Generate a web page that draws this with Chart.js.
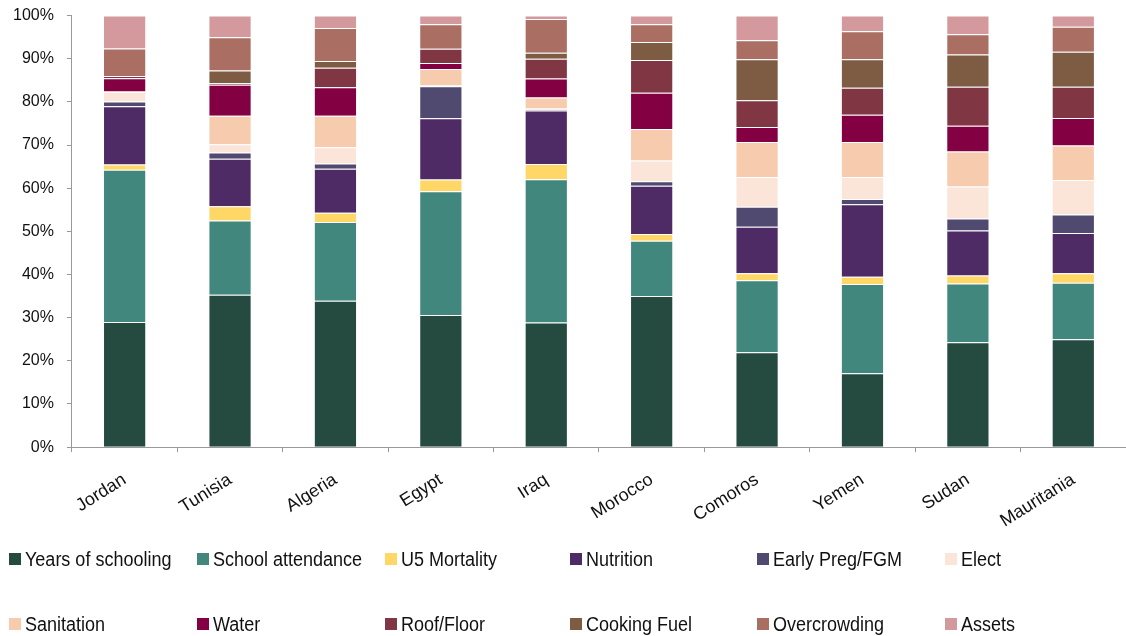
<!DOCTYPE html>
<html>
<head>
<meta charset="utf-8">
<script src="https://cdn.jsdelivr.net/npm/chart.js@4/dist/chart.umd.min.js"></script>
<style>
  html, body { margin: 0; padding: 0; background: #fff; }
  #wrap { position: relative; width: 1126px; height: 636px; overflow: hidden; }
  #chart { position: absolute; left: 0; top: -7px; }
  .leg { position: absolute; display: flex; align-items: center; white-space: nowrap;
         font-family: 'Liberation Sans', Arial, sans-serif; font-size: 20px; color: #111; }
  .leg i { display: inline-block; width: 12px; height: 12px; margin-right: 4px; flex: none; }
  .leg span { display: inline-block; transform: scaleX(0.9); transform-origin: left center; }
</style>
</head>
<body>
<div id="wrap">
  <canvas id="chart" width="1126" height="636"></canvas>
  <div id="legend"></div>
</div>
<script>
// Countries along the x axis
const countries = ['Jordan', 'Tunisia', 'Algeria', 'Egypt', 'Iraq', 'Morocco', 'Comoros', 'Yemen', 'Sudan', 'Mauritania'];

// Share of each deprivation indicator (%), per country
const yearsOfSchooling = [29.0, 35.3, 33.9, 30.6, 28.9, 35.0, 22.0, 17.1, 24.3, 25.0];
const schoolAttendance = [35.3, 17.2, 18.3, 28.7, 33.2, 12.8, 16.7, 20.7, 13.6, 13.1];
const u5Mortality      = [1.2, 3.3, 2.1, 2.7, 3.5, 1.6, 1.6, 1.7, 1.9, 2.2];
const nutrition        = [13.5, 11.0, 10.2, 14.2, 12.4, 11.2, 10.8, 16.8, 10.4, 9.3];
const earlyPregFGM     = [1.1, 1.5, 1.2, 7.4, 0.2, 1.0, 4.6, 1.2, 2.8, 4.3];
const elect            = [2.2, 1.9, 3.8, 0.2, 0.3, 4.8, 6.9, 5.1, 7.4, 8.0];
const sanitation       = [0.1, 6.6, 7.3, 3.8, 2.5, 7.3, 8.1, 8.1, 8.1, 8.0];
const water            = [3.1, 7.2, 6.6, 1.4, 4.4, 8.4, 3.5, 6.3, 6.0, 6.4];
const roofFloor        = [0.5, 0.3, 4.5, 3.3, 4.6, 7.6, 6.2, 6.3, 9.0, 7.2];
const cookingFuel      = [0.0, 3.0, 1.6, 0.0, 1.4, 4.2, 9.5, 6.6, 7.5, 8.1];
const overcrowding     = [6.4, 7.7, 7.6, 5.7, 7.8, 4.1, 4.4, 6.5, 4.7, 5.8];
const assets           = [7.6, 5.0, 2.9, 2.0, 0.8, 2.0, 5.7, 3.6, 4.3, 2.6];

// Y axis tick labels
const yTicks = ['0%', '10%', '20%', '30%', '40%', '50%', '60%', '70%', '80%', '90%', '100%'];

const series = [
  { label: 'Years of schooling', data: yearsOfSchooling, color: '#254b40' },
  { label: 'School attendance',  data: schoolAttendance, color: '#42877e' },
  { label: 'U5 Mortality',       data: u5Mortality,      color: '#fed766' },
  { label: 'Nutrition',          data: nutrition,        color: '#4e2b64' },
  { label: 'Early Preg/FGM',     data: earlyPregFGM,     color: '#514a70' },
  { label: 'Elect',              data: elect,            color: '#fbe5d9' },
  { label: 'Sanitation',         data: sanitation,       color: '#f7cbad' },
  { label: 'Water',              data: water,            color: '#830042' },
  { label: 'Roof/Floor',         data: roofFloor,        color: '#803643' },
  { label: 'Cooking Fuel',       data: cookingFuel,      color: '#7e5c44' },
  { label: 'Overcrowding',       data: overcrowding,     color: '#aa6e62' },
  { label: 'Assets',             data: assets,           color: '#d3999c' }
];

const font = "'Liberation Sans', Arial, sans-serif";

new Chart(document.getElementById('chart'), {
  type: 'bar',
  data: {
    labels: countries,
    datasets: series.map(s => ({
      label: s.label,
      data: s.data,
      backgroundColor: s.color,
      borderColor: 'rgba(255,255,255,0.35)',
      borderWidth: 1,
      barPercentage: 0.41,
      categoryPercentage: 1
    }))
  },
  options: {
    responsive: false,
    animation: false,
    layout: { padding: { top: 0, right: -4, left: 0, bottom: 80 } },
    plugins: { legend: { display: false }, tooltip: { enabled: false } },
    scales: {
      x: {
        stacked: true,
        border: { display: true, color: '#999', width: 1 },
        grid: { offset: true, drawOnChartArea: false, drawTicks: true, tickLength: 5, color: '#999' },
        ticks: { color: '#111', font: { family: font, size: 18 }, minRotation: 32, maxRotation: 32, padding: 17 }
      },
      y: {
        stacked: true,
        min: 0, max: 100,
        border: { display: true, color: '#999', width: 1 },
        grid: { drawOnChartArea: false, drawTicks: true, tickLength: 5, color: '#999' },
        ticks: {
          stepSize: 10, color: '#111', padding: 13,
          font: { family: font, size: 16 },
          callback: (v) => yTicks[Math.round(v / 10)]
        }
      }
    }
  }
});

// Legend laid out in two rows of six
const legendCols = [9, 197, 385, 570, 757, 945];
const legendRows = [559, 624];
const legendEl = document.getElementById('legend');
series.forEach((s, i) => {
  const d = document.createElement('div');
  d.className = 'leg';
  d.style.left = legendCols[i % 6] + 'px';
  d.style.top = (legendRows[Math.floor(i / 6)] - 12) + 'px';
  d.style.height = '24px';
  d.innerHTML = '<i style="background:' + s.color + '"></i><span>' + s.label + '</span>';
  legendEl.appendChild(d);
});
</script>
</body>
</html>
